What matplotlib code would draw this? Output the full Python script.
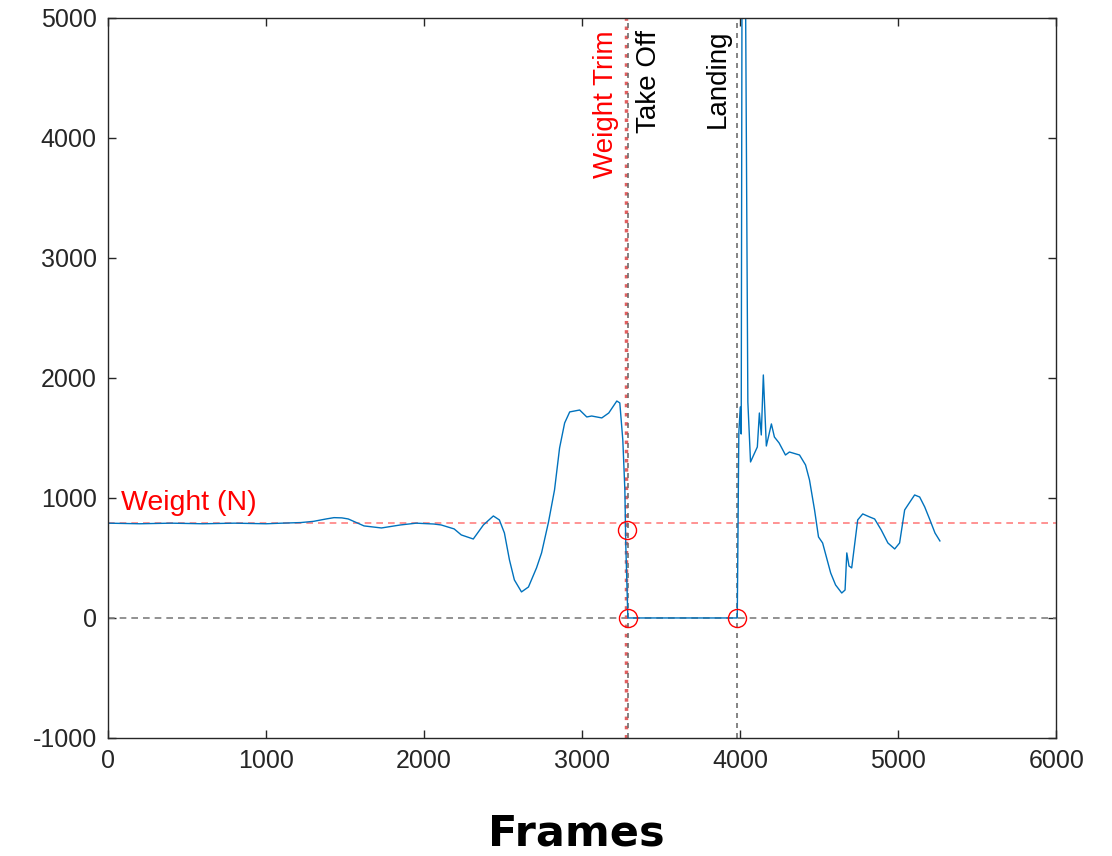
import matplotlib
matplotlib.use("Agg")
import matplotlib.pyplot as plt

# --------------------------------------------------------------------
# Data
# --------------------------------------------------------------------
frames = [0, 200, 400, 600, 800, 1000, 1100, 1220, 1300, 1380, 1430, 1480,
          1520, 1620, 1730, 1850, 1950, 2060, 2108, 2190, 2235, 2311, 2375,
          2438, 2476, 2508, 2540, 2571, 2616, 2660, 2711, 2743, 2787, 2825,
          2857, 2889, 2921, 2984, 3029, 3060, 3124, 3168, 3219, 3238, 3257,
          3270, 3276, 3289, 3500, 3800, 3981,
          3991, 4000, 4006, 4012, 4030, 4048, 4065, 4108, 4121, 4133, 4146,
          4165, 4197, 4216, 4246, 4286, 4311, 4375, 4413, 4438, 4470, 4495,
          4521, 4572, 4603, 4642, 4663, 4674, 4688, 4705, 4743, 4775, 4818,
          4850, 4892, 4934, 4977, 5008, 5040, 5061, 5103, 5135, 5167, 5200,
          5232, 5263]
force = [790, 785, 790, 785, 790, 785, 790, 795, 805, 825, 836, 834,
         825, 767, 750, 775, 790, 783, 775, 742, 692, 658, 775,
         850, 817, 708, 483, 317, 217, 258, 417, 542, 800, 1067,
         1417, 1625, 1717, 1733, 1675, 1683, 1667, 1708, 1808, 1792, 1483,
         1067, 600, 0, 0, 0, 0,
         1542, 1758, 1533, 6000, 6000, 1800, 1300, 1425, 1708, 1525, 2025,
         1433, 1617, 1508, 1458, 1358, 1383, 1358, 1275, 1150, 900, 675,
         625, 375, 275, 208, 233, 542, 433, 417, 817, 867, 842,
         825, 733, 625, 575, 625, 900, 942, 1025, 1008, 925, 817,
         708, 642]

weight = 790
weight_trim = 3275
take_off = 3290
landing = 3982

event_x = [3283, 3289, 3981]
event_y = [733, 0, 0]

xticks = [0, 1000, 2000, 3000, 4000, 5000, 6000]
yticks = [-1000, 0, 1000, 2000, 3000, 4000, 5000]

# --------------------------------------------------------------------
# Plot
# --------------------------------------------------------------------
plt.rcParams["font.family"] = ["Liberation Sans", "DejaVu Sans"]
plt.rcParams["axes.unicode_minus"] = False

fig = plt.figure(figsize=(11.12, 8.56), dpi=100)
ax = fig.add_axes([0.0971, 0.1379, 0.8529, 0.8411])

ax.axhline(weight, color="#ff8080", linestyle="--", linewidth=1.2, dashes=(4, 3))
ax.axhline(0, color="#7f7f7f", linestyle="--", linewidth=1.2, dashes=(4, 3))
ax.axvline(weight_trim, color="#e06060", linestyle=":", linewidth=2.5)
ax.axvline(take_off, color="#707070", linestyle="--", linewidth=1.2, dashes=(3, 3))
ax.axvline(landing, color="#707070", linestyle="--", linewidth=1.2, dashes=(3, 3))

ax.plot(frames, force, color="#0072BD", linewidth=1.0)
ax.plot(event_x, event_y, "o", markerfacecolor="none", markeredgecolor="red",
        markersize=13, markeredgewidth=1.0)

ax.text(weight_trim - 45, 4900, "Weight Trim", color="red", rotation=90,
        ha="right", va="top", fontsize=20)
ax.text(take_off + 50, 4900, "Take Off", color="black", rotation=90,
        ha="left", va="top", fontsize=20)
ax.text(landing - 45, 4900, "Landing", color="black", rotation=90,
        ha="right", va="top", fontsize=20)
ax.text(80, weight + 60, "Weight (N)", color="red", ha="left", va="bottom",
        fontsize=20.5)

ax.set_xlim(0, 6000)
ax.set_ylim(-1000, 5000)
ax.set_xticks(xticks)
ax.set_yticks(yticks)
ax.tick_params(direction="in", top=True, right=True, length=6, width=1,
               labelsize=18, labelcolor="#262626", color="#262626", pad=8)
for s in ax.spines.values():
    s.set_color("#262626")
    s.set_linewidth(1.0)

fig.text(0.518, 0.002, "Frames", ha="center", va="bottom", fontsize=31,
         fontweight="bold", family=["DejaVu Sans"])

fig.savefig("out.png", dpi=100)
